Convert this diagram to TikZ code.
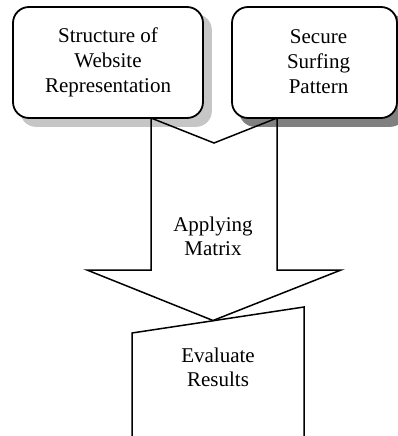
\documentclass[tikz,border=0pt]{standalone}
\usepackage{fontspec}
\setmainfont{Liberation Serif}
\definecolor{shadowlight}{RGB}{198,198,198}
\definecolor{shadowdark}{RGB}{128,128,128}
\pgfdeclarelayer{shadowlayer}
\pgfdeclarelayer{arrowlayer}
\pgfsetlayers{shadowlayer,arrowlayer,main}
\begin{document}
\begin{tikzpicture}[x=1pt,y=-1pt,
  box/.style={draw, line width=1.8pt, rounded corners=16pt, fill=white, inner sep=0pt,
              align=center, font=\fontsize{21}{25}\selectfont},
  lbl/.style={align=center, inner sep=0pt, font=\fontsize{21}{24}\selectfont},
  outline/.style={draw, line width=1.5pt, line join=miter},
  shadowA/.style={fill=shadowlight, rounded corners=16pt},
  shadowB/.style={fill=shadowdark, rounded corners=16pt}]
\useasboundingbox (0,0) rectangle (398,436);
% top boxes
\node[box, minimum width=190pt, minimum height=111pt] (b1) at (108,62.5) {Structure of\\Website\\Representation};
\node[box, minimum width=165pt, minimum height=111pt] (b2) at (314.5,62.5) {};
\node[lbl, font=\fontsize{21}{25}\selectfont] (b2t) at (318.5,61.5) {Secure\\Surfing\\Pattern};
% shadows
\begin{pgfonlayer}{shadowlayer}
  \fill[shadowA] ([shift={(8,8)}]b1.north west) rectangle ([shift={(8,8)}]b1.south east);
  \fill[shadowB] ([shift={(8,8)}]b2.north west) rectangle ([shift={(8,8)}]b2.south east);
\end{pgfonlayer}
% big arrow
\coordinate (sl) at (151,118);
\coordinate (sr) at (277,118);
\coordinate (notch) at (214,143);
\coordinate (tip) at (213,320.5);
\begin{pgfonlayer}{arrowlayer}
  \draw[outline] (sl) -- (151,270) -- (87,270) -- (tip) -- (341,270) -- (277,270) -- (sr) -- (notch) -- cycle;
\end{pgfonlayer}
\node[lbl] (am) at (213,236) {Applying\\Matrix};
% evaluate shape (manual input, cut at bottom)
\coordinate (el) at (132,333);
\coordinate (er) at (304,307);
\draw[outline] (132,450) -- (el) -- (er) -- (304,450);
\node[lbl] (ev) at (218,367) {Evaluate\\Results};
\end{tikzpicture}
\end{document}
